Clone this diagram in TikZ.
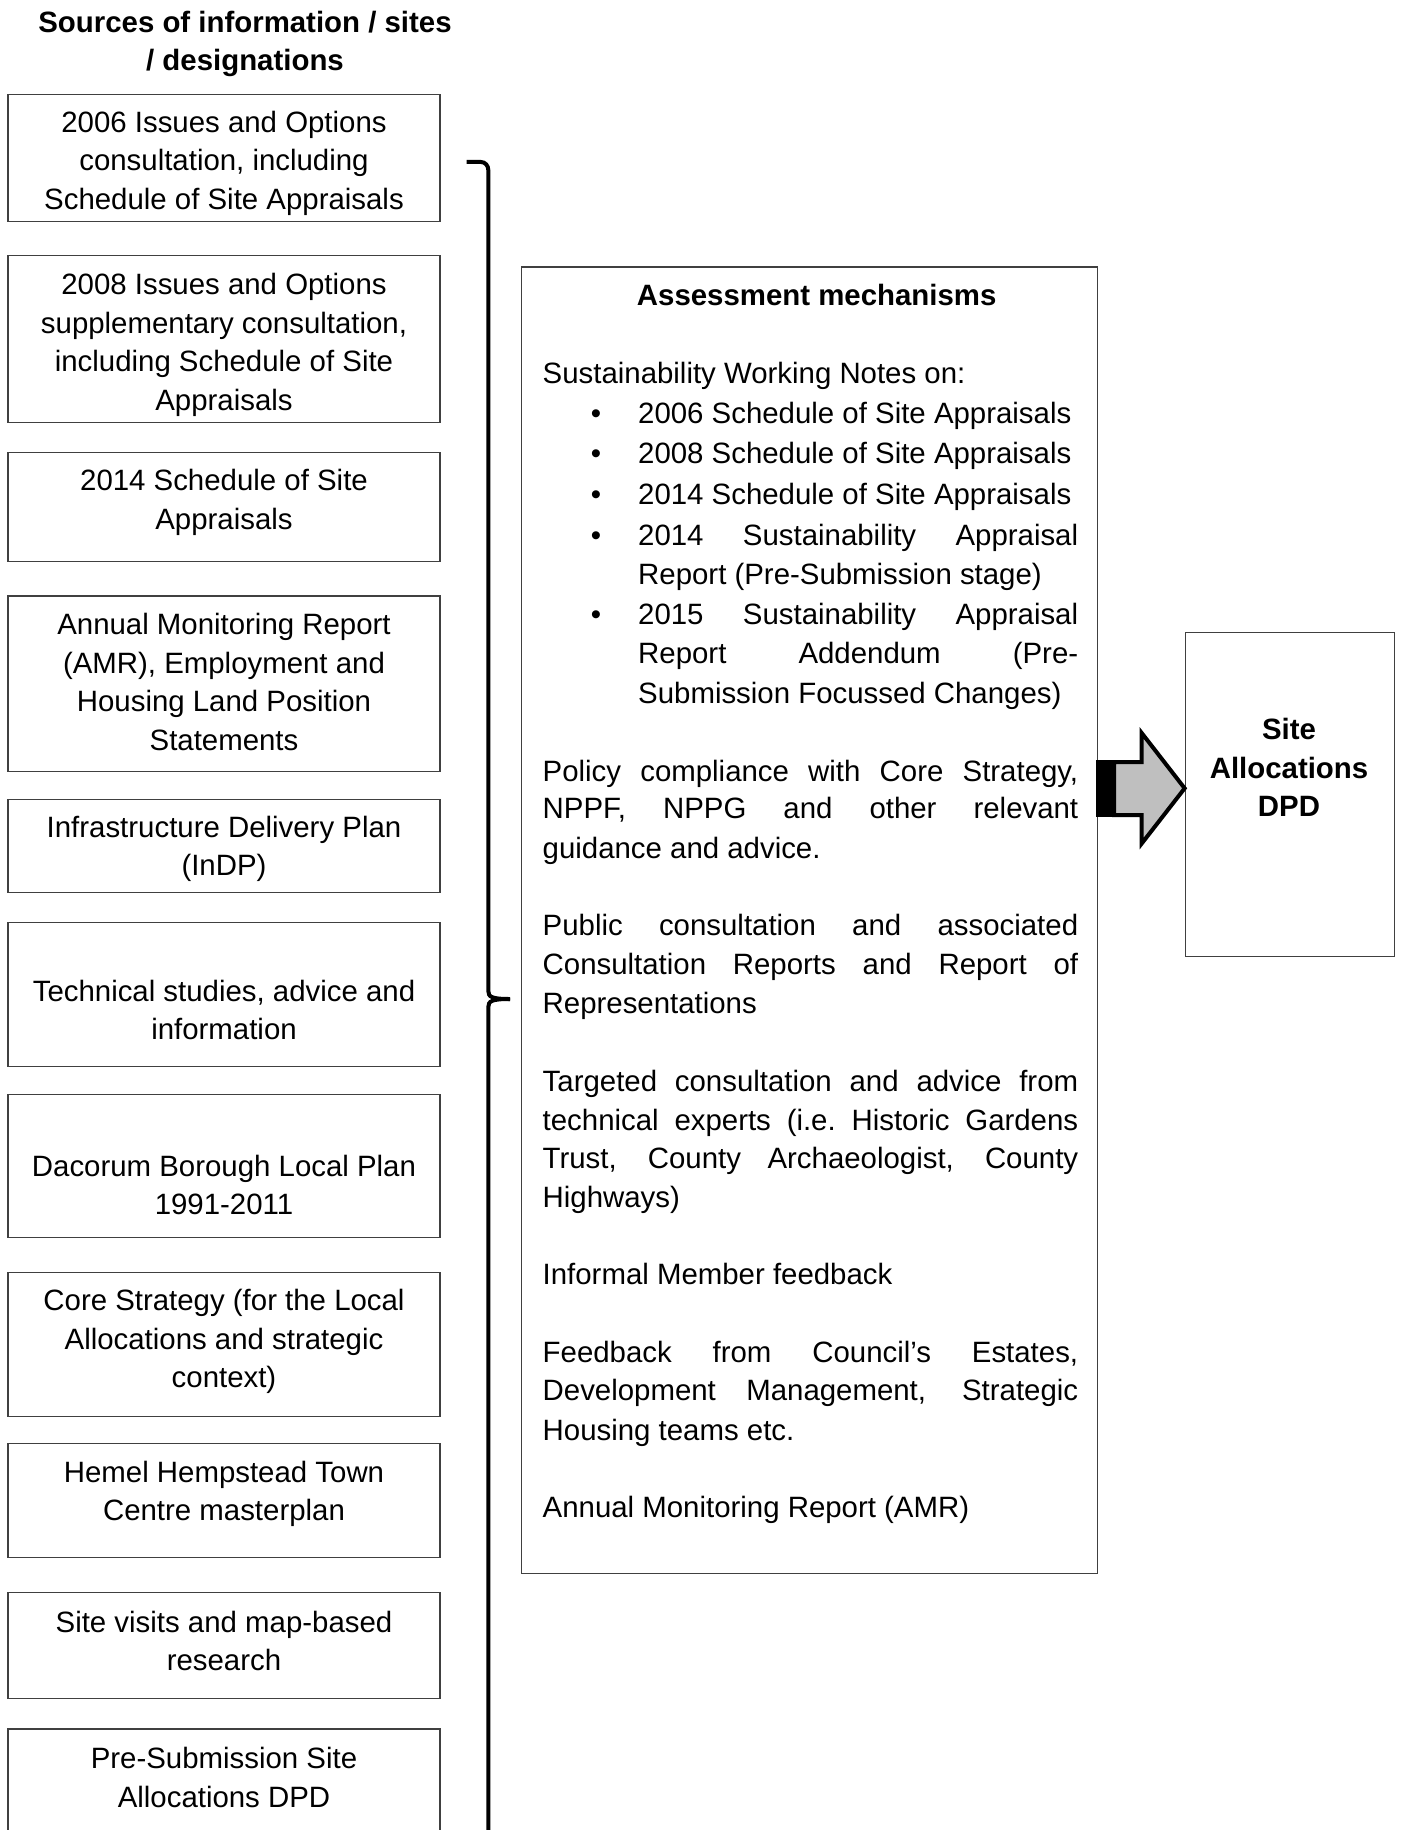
\documentclass[tikz,border=0pt]{standalone}
\usepackage{fontspec}
\setmainfont{Liberation Sans}
\newcommand{\bodyfont}{\fontsize{29.4}{38.5}\selectfont}
\begin{document}
\begin{tikzpicture}[x=1pt,y=-1pt,
  srcbox/.style={draw=black!75, line width=1.3pt, minimum width=432pt, inner sep=0pt},
  srctxt/.style={align=center, inner sep=0pt, font=\bodyfont},
  mline/.style={anchor=base west, inner sep=0pt, font=\bodyfont},
  bul/.style={anchor=base, inner sep=0pt, font=\bodyfont},
  bigbox/.style={draw=black!75, line width=1.3pt, inner sep=0pt},
  brace/.style={line width=4pt}
]
\path[use as bounding box, clip] (0,0) rectangle (1400,1830);
\fill[white] (0,0) rectangle (1400,1830);

% header
\node[srctxt, font=\bodyfont\bfseries] (hd) at (245,43.8) {Sources of information / sites\\/ designations};

% source boxes
\node[srcbox, minimum height=127.2pt] (s1) at (224,158.1) {};
\node[srctxt] (t1) at (224,163.3) {2006 Issues and Options\\consultation, including\\Schedule of Site Appraisals};
\node[srcbox, minimum height=166.8pt] (s2) at (224,338.9) {};
\node[srctxt] (t2) at (224,344.7) {2008 Issues and Options\\supplementary consultation,\\including Schedule of Site\\Appraisals};
\node[srcbox, minimum height=108.5pt] (s3) at (224,506.95) {};
\node[srctxt] (t3) at (224,502.3) {2014 Schedule of Site\\Appraisals};
\node[srcbox, minimum height=175.2pt] (s4) at (224,683.6) {};
\node[srctxt] (t4) at (224,681.9) {Annual Monitoring Report\\(AMR), Employment and\\Housing Land Position\\Statements};
\node[srcbox, minimum height=93.3pt] (s5) at (224,845.85) {};
\node[srctxt] (t5) at (224,848.8) {Infrastructure Delivery Plan\\(InDP)};
\node[srcbox, minimum height=143.5pt] (s6) at (224,994.55) {};
\node[srctxt] (t6) at (224,1009.8) {Technical studies, advice and\\information};
\node[srcbox, minimum height=143.5pt] (s7) at (224,1166.05) {};
\node[srctxt] (t7) at (224,1184.8) {Dacorum Borough Local Plan\\1991-2011};
\node[srcbox, minimum height=143.5pt] (s8) at (224,1344.55) {};
\node[srctxt] (t8) at (224,1341.6) {Core Strategy (for the Local\\Allocations and strategic\\context)};
\node[srcbox, minimum height=114.3pt] (s9) at (224,1500.35) {};
\node[srctxt] (t9) at (224,1493.9) {Hemel Hempstead Town\\Centre masterplan};
\node[srcbox, minimum height=106.2pt] (s10) at (224,1645.6) {};
\node[srctxt] (t10) at (224,1641.0) {Site visits and map-based\\research};
\node[srcbox, minimum height=121pt] (s11) at (224,1789.5) {};
\node[srctxt] (t11) at (224,1777.5) {Pre-Submission Site\\Allocations DPD};

% brace
\draw[brace] (466.7,162) -- (481,162) to[out=0,in=90] (488.3,170) -- (488.3,991)
  .. controls (488.3,997) and (492,999) .. (510,999);
\draw[brace] (510,999) .. controls (492,999) and (488.3,1001) .. (488.3,1007) -- (488.3,1845);

% assessment box
\node[bigbox, minimum width=576.3pt, minimum height=1306.8pt] (mb) at (809.65,920.4) {};
\node[bul, font=\bodyfont\bfseries] (mh) at (816.7,305) {Assessment mechanisms};
\node[mline] (m1) at (542.5,383.3) {Sustainability Working Notes on:};
\node[bul] (b1) at (596,423) {\textbullet};
\node[mline] (m2) at (638,423) {2006 Schedule of Site Appraisals};
\node[bul] (b2) at (596,463.8) {\textbullet};
\node[mline] (m3) at (638,463.8) {2008 Schedule of Site Appraisals};
\node[bul] (b3) at (596,504.7) {\textbullet};
\node[mline] (m4) at (638,504.7) {2014 Schedule of Site Appraisals};
\node[bul] (b4) at (596,545.5) {\textbullet};
\node[mline] (m5) at (638,545.5) {\makebox[440pt][s]{2014 Sustainability Appraisal}};
\node[mline] (m6) at (638,584) {Report (Pre-Submission stage)};
\node[bul] (b5) at (596,624.8) {\textbullet};
\node[mline] (m7) at (638,624.8) {\makebox[440pt][s]{2015 Sustainability Appraisal}};
\node[mline] (m8) at (638,663.3) {\makebox[440pt][s]{Report Addendum (Pre-}};
\node[mline] (m9) at (638,703) {Submission Focussed Changes)};
\node[mline] (m10) at (542.5,781.2) {\makebox[535.5pt][s]{Policy compliance with Core Strategy,}};
\node[mline] (m11) at (542.5,818.5) {\makebox[535.5pt][s]{NPPF, NPPG and other relevant}};
\node[mline] (m12) at (542.5,858.2) {guidance and advice.};
\node[mline] (m13) at (542.5,935.2) {\makebox[535.5pt][s]{Public consultation and associated}};
\node[mline] (m14) at (542.5,974.8) {\makebox[535.5pt][s]{Consultation Reports and Report of}};
\node[mline] (m15) at (542.5,1013.3) {Representations};
\node[mline] (m16) at (542.5,1091.5) {\makebox[535.5pt][s]{Targeted consultation and advice from}};
\node[mline] (m17) at (542.5,1130) {\makebox[535.5pt][s]{technical experts (i.e.\ Historic Gardens}};
\node[mline] (m18) at (542.5,1168.5) {\makebox[535.5pt][s]{Trust, County Archaeologist, County}};
\node[mline] (m19) at (542.5,1207) {Highways)};
\node[mline] (m20) at (542.5,1284) {Informal Member feedback};
\node[mline] (m21) at (542.5,1362.2) {\makebox[535.5pt][s]{Feedback from Council’s Estates,}};
\node[mline] (m22) at (542.5,1400.7) {\makebox[535.5pt][s]{Development Management, Strategic}};
\node[mline] (m23) at (542.5,1440.3) {Housing teams etc.};
\node[mline] (m24) at (542.5,1517.3) {Annual Monitoring Report (AMR)};

% output box
\node[bigbox, minimum width=208.9pt, minimum height=324.4pt] (out) at (1289.75,794.5) {};
\node[srctxt, font=\bodyfont\bfseries] (ot) at (1289,767.7) {Site\\Allocations\\DPD};

% arrow
\coordinate (as) at (1096,788.3);
\coordinate (ae) at (out.west |- as);
\fill[black] (1096,760) rectangle (1115,817);
\draw[line width=4pt, fill=black!25, miter limit=10] (1114,762) -- (1141.7,762) -- (1141.7,733) -- (ae) -- (1141.7,843.5) -- (1141.7,815) -- (1114,815) -- cycle;
\end{tikzpicture}
\end{document}
